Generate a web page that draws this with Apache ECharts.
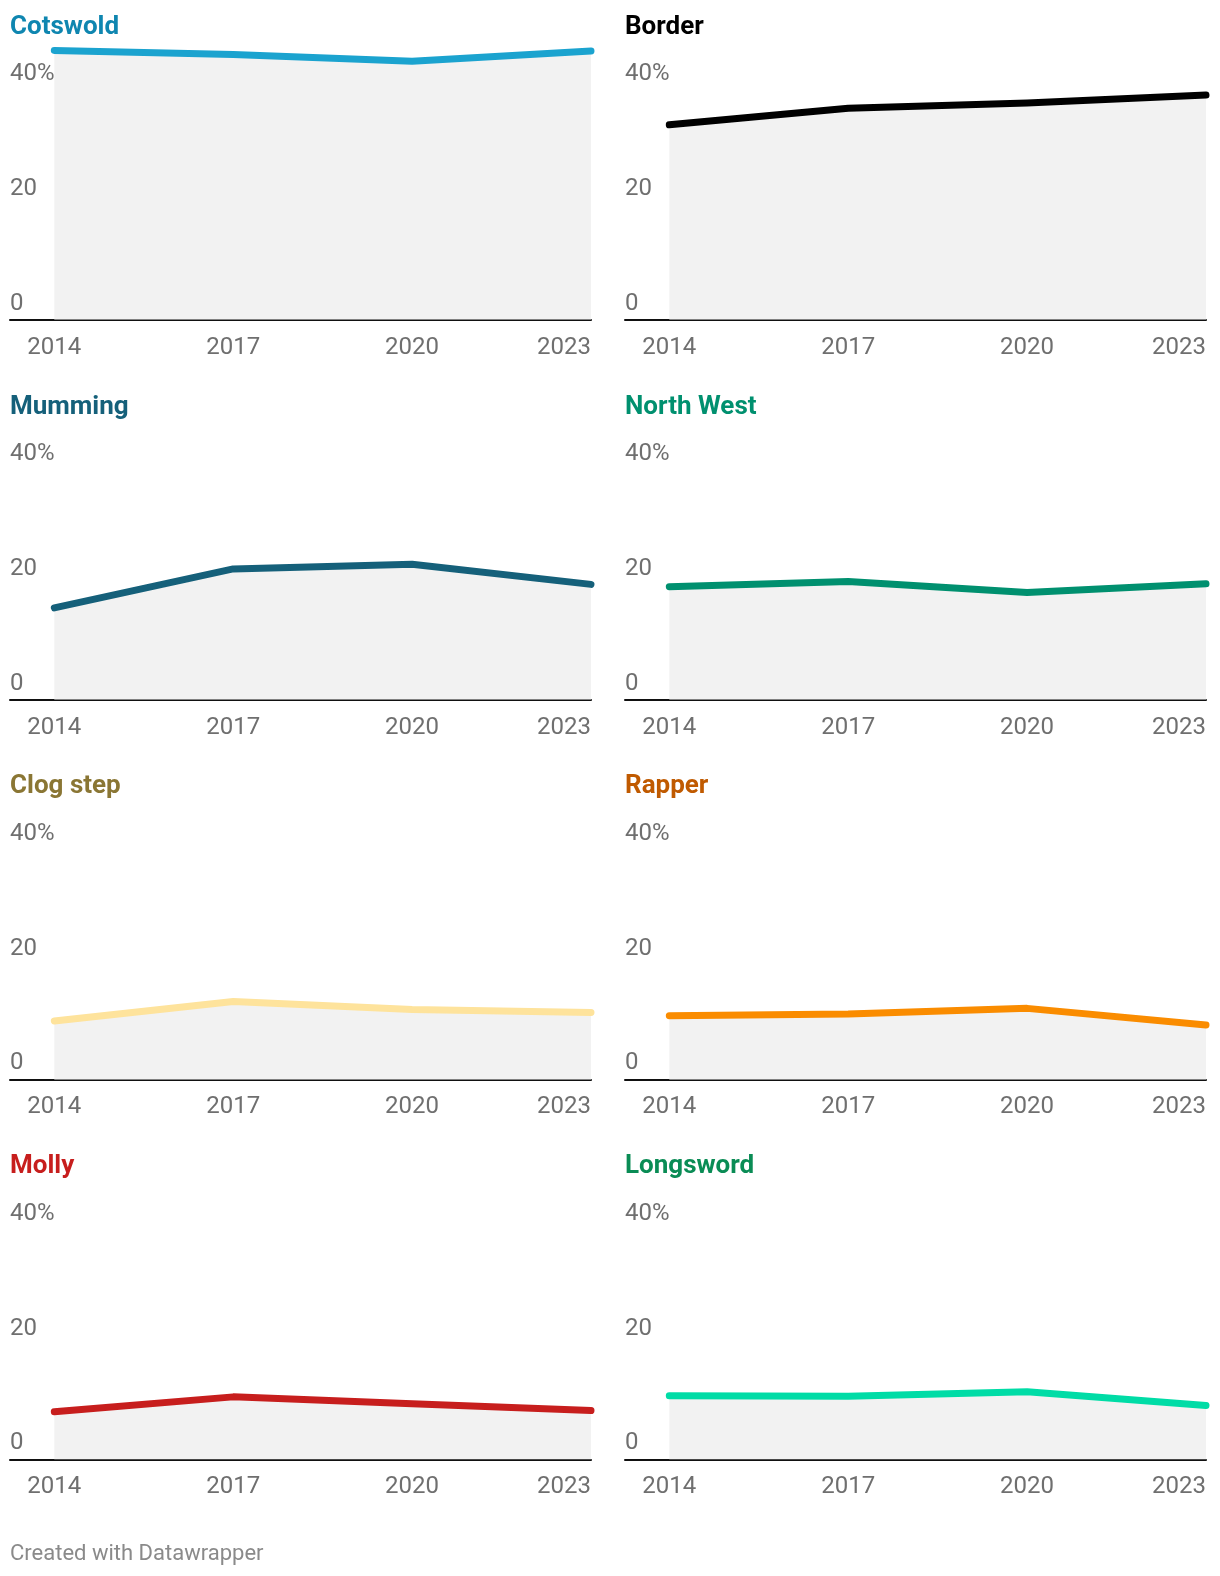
<!DOCTYPE html>
<html>
<head>
<meta charset="utf-8">
<script src="https://cdn.jsdelivr.net/npm/echarts@6/dist/echarts.min.js"></script>
<style>
  html, body { margin: 0; padding: 0; background: #fff; }
  #chart { width: 1220px; height: 1576px; }
</style>
</head>
<body>
<div id="chart"></div>
<script>
// ---- data ----
const years = [2014, 2017, 2020, 2023];
const panelNames = ["Cotswold", "Border", "Mumming", "North West", "Clog step", "Rapper", "Molly", "Longsword"];
const cotswold  = [47.0, 46.3, 45.1, 46.9];
const border    = [34.0, 36.9, 37.8, 39.2];
const mumming   = [16.0, 22.8, 23.6, 20.1];
const northWest = [19.7, 20.6, 18.7, 20.2];
const clogStep  = [10.2, 13.6, 12.2, 11.7];
const rapper    = [11.1, 11.4, 12.4, 9.5];
const molly     = [8.3, 10.9, 9.7, 8.5];
const longsword = [11.1, 11.0, 11.8, 9.4];
const yTicks = [0, 20, 40];
const footerText = "Created with Datawrapper";

// ---- styles ----
const seriesValues = [cotswold, border, mumming, northWest, clogStep, rapper, molly, longsword];
const lineColors  = ["#1ba3cf", "#000000", "#15607a", "#00906f", "#fee39c", "#fa8c00", "#c71e1d", "#00dca6"];
const titleColors = ["#0f86b0", "#000000", "#15607a", "#00906f", "#8a7634", "#c05a00", "#c71e1d", "#0a8c55"];

const FONT = "Roboto";
const labelColor = "#6f6f6f";
const pxPerUnit = 5.728;
const yMax = 50;
const gridWidth = 581;
const dataOffset = 44.3;                 // px between label column and first data point
const pxPerYear = (gridWidth - dataOffset) / 9;
const xMin = 2014 - dataOffset / pxPerYear;

const grids = [], xAxes = [], yAxes = [], series = [], titles = [];
for (let i = 0; i < panelNames.length; i++) {
  const col = i % 2, row = Math.floor(i / 2);
  const left = col === 0 ? 10 : 625;
  const axisY = 319.6 + row * 379.9;
  const h = yMax * pxPerUnit;
  grids.push({ left: left, top: axisY - h, width: gridWidth, height: h, containLabel: false });
  xAxes.push({
    type: 'value', gridIndex: i, min: xMin, max: 2023,
    axisLine: { show: true, onZero: false, lineStyle: { color: '#111', width: 2 } },
    axisTick: { show: false },
    splitLine: { show: false },
    axisLabel: {
      customValues: years,
      formatter: v => String(v),
      color: labelColor, fontFamily: FONT, fontSize: 24,
      margin: 28, verticalAlign: 'middle',
      alignMaxLabel: 'right'
    }
  });
  yAxes.push({
    type: 'value', gridIndex: i, min: 0, max: yMax, z: 5,
    axisLine: { show: false }, axisTick: { show: false }, splitLine: { show: false },
    axisLabel: {
      inside: true, margin: 0, align: 'left', verticalAlign: 'bottom',
      lineHeight: 32,
      customValues: yTicks,
      formatter: v => v === 40 ? '40%' : String(v),
      color: labelColor, fontFamily: FONT, fontSize: 24
    }
  });
  series.push({
    type: 'line', xAxisIndex: i, yAxisIndex: i,
    data: years.map((y, j) => [y, seriesValues[i][j]]),
    symbol: 'none', silent: true,
    lineStyle: { color: lineColors[i], width: 7, cap: 'round', join: 'round' },
    areaStyle: { color: '#f2f2f2', opacity: 1 }
  });
  const titleSize = 26;
  titles.push({
    text: panelNames[i], left: left, top: 27.1 + row * 379.9 - titleSize / 2, padding: 0,
    textStyle: { fontFamily: FONT, fontWeight: 'bold', fontSize: titleSize, color: titleColors[i] }
  });
}
titles.push({
  text: footerText, left: 10, top: 1554.6 - 11, padding: 0,
  textStyle: { fontFamily: FONT, fontWeight: 'normal', fontSize: 22, color: '#8a8a8a' }
});

const chart = echarts.init(document.getElementById('chart'), null, { renderer: 'canvas' });
chart.setOption({
  animation: false,
  backgroundColor: '#ffffff',
  title: titles,
  grid: grids,
  xAxis: xAxes,
  yAxis: yAxes,
  series: series
});
</script>
</body>
</html>
